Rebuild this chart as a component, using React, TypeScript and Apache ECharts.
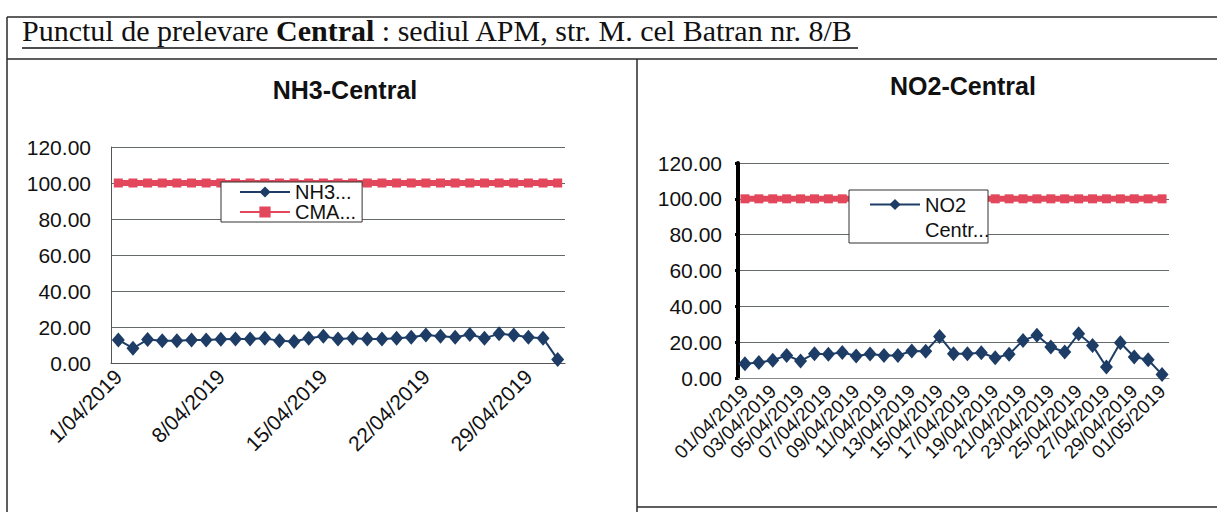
import React, { useEffect, useRef } from "react";
import * as echarts from "echarts";

const nh3Dates = [
  "1/04/2019", "2/04/2019", "3/04/2019", "4/04/2019", "5/04/2019", "6/04/2019", "7/04/2019",
  "8/04/2019", "9/04/2019", "10/04/2019", "11/04/2019", "12/04/2019", "13/04/2019", "14/04/2019",
  "15/04/2019", "16/04/2019", "17/04/2019", "18/04/2019", "19/04/2019", "20/04/2019", "21/04/2019",
  "22/04/2019", "23/04/2019", "24/04/2019", "25/04/2019", "26/04/2019", "27/04/2019", "28/04/2019",
  "29/04/2019", "30/04/2019", "1/05/2019",
];
const no2Dates = [
  "01/04/2019", "02/04/2019", "03/04/2019", "04/04/2019", "05/04/2019", "06/04/2019", "07/04/2019",
  "08/04/2019", "09/04/2019", "10/04/2019", "11/04/2019", "12/04/2019", "13/04/2019", "14/04/2019",
  "15/04/2019", "16/04/2019", "17/04/2019", "18/04/2019", "19/04/2019", "20/04/2019", "21/04/2019",
  "22/04/2019", "23/04/2019", "24/04/2019", "25/04/2019", "26/04/2019", "27/04/2019", "28/04/2019",
  "29/04/2019", "30/04/2019", "01/05/2019",
];
const nh3Values = [
  12.8, 8.2, 13.0, 12.3, 12.3, 12.8, 12.8, 13.2, 13.4, 13.4, 13.8, 12.3, 12.0, 13.8, 14.8, 13.4,
  13.8, 13.4, 13.4, 13.8, 14.3, 15.5, 14.8, 14.3, 15.8, 13.8, 16.2, 15.5, 14.3, 13.8, 2.0,
];
const no2Values = [
  8.0, 8.6, 9.9, 12.6, 9.5, 13.6, 13.2, 14.3, 12.3, 13.4, 12.6, 12.6, 15.1, 14.9, 23.2, 13.6,
  13.6, 14.1, 11.3, 13.2, 21.0, 23.8, 17.3, 14.5, 24.7, 18.2, 6.1, 19.7, 11.7, 10.2, 1.9,
];
const cmaValues = [
  100, 100, 100, 100, 100, 100, 100, 100, 100, 100, 100, 100, 100, 100, 100, 100,
  100, 100, 100, 100, 100, 100, 100, 100, 100, 100, 100, 100, 100, 100, 100,
];
const seriesNames = { nh3: "NH3-Central", cmaNh3: "CMA-NH3", no2: "NO2-Central", cmaNo2: "CMA-NO2" };
const pageTitle = "Punctul de prelevare {b|Central} : sediul APM, str. M. cel Batran nr. 8/B";

const NAVY = "#1d3d66";
const RED = "#e2475b";
const GRID = "#646a6a";
const FRAME = "#2a2a2a";
const SANS = "Liberation Sans, Arial, sans-serif";
const SERIF = "Liberation Serif, Times New Roman, serif";

export default function App() {
  const ref = useRef<HTMLDivElement>(null);
  useEffect(() => {
    if (!ref.current) return;
    const chart = echarts.init(ref.current, null, { renderer: "svg" });
    const yFmt = (v: number) => v.toFixed(2);
    const xLabel = (interval: number, fontSize: number) => ({
      interval,
      rotate: 45,
      margin: 10,
      fontSize,
      color: "#111",
      fontFamily: SANS,
    });
    const option: any = {
      animation: false,
      backgroundColor: "#fff",
      textStyle: { fontFamily: SANS },
      title: [
        {
          text: "NH3-Central",
          left: 340,
          top: 72,
          textAlign: "center",
          textStyle: { fontSize: 25, fontWeight: "bold", color: "#111", fontFamily: SANS },
        },
        {
          text: "NO2-Central",
          left: 958,
          top: 68,
          textAlign: "center",
          textStyle: { fontSize: 25, fontWeight: "bold", color: "#111", fontFamily: SANS },
        },
      ],
      grid: [
        { left: 111, top: 147, width: 454, height: 216, outerBoundsMode: "none" },
        { left: 738, top: 163, width: 431, height: 215, outerBoundsMode: "none" },
      ],
      xAxis: [
        {
          type: "category",
          gridIndex: 0,
          data: nh3Dates,
          boundaryGap: true,
          axisLine: { lineStyle: { color: "#555", width: 1 } },
          axisTick: { interval: 6, length: 6, lineStyle: { color: "#555" } },
          axisLabel: xLabel(6, 21),
          splitLine: { show: false },
        },
        {
          type: "category",
          gridIndex: 1,
          data: no2Dates,
          boundaryGap: true,
          axisLine: { lineStyle: { color: "#888", width: 1 } },
          axisTick: { interval: 1, length: 5, lineStyle: { color: "#444" } },
          axisLabel: xLabel(1, 19),
          splitLine: { show: false },
        },
      ],
      yAxis: [
        {
          type: "value",
          gridIndex: 0,
          min: 0,
          max: 120,
          interval: 20,
          axisLine: { show: true, lineStyle: { color: "#555", width: 1 } },
          axisTick: { show: false },
          axisLabel: { formatter: yFmt, fontSize: 21, margin: 20, color: "#111", fontFamily: SANS },
          splitLine: { show: true, lineStyle: { color: GRID, width: 1 } },
        },
        {
          type: "value",
          gridIndex: 1,
          min: 0,
          max: 120,
          interval: 20,
          axisLine: { show: true, lineStyle: { color: "#000", width: 4 } },
          axisTick: { show: true, length: 3, lineStyle: { color: "#000", width: 3 } },
          axisLabel: { formatter: yFmt, fontSize: 21, margin: 16, color: "#111", fontFamily: SANS },
          splitLine: { show: true, lineStyle: { color: GRID, width: 1 } },
        },
      ],
      legend: [
        {
          data: [seriesNames.nh3, seriesNames.cmaNh3],
          orient: "vertical",
          left: 221,
          top: 182,
          padding: [0, 6, 0, 18],
          itemGap: 0,
          itemWidth: 50,
          itemHeight: 14,
          textStyle: { fontSize: 20, color: "#111", fontFamily: SANS },
          formatter: (n: string) => n.slice(0, 3) + "...",
          backgroundColor: "#fff",
          borderColor: "#333",
          borderWidth: 1,
          selectedMode: false,
          z: 11,
        },
        {
          data: [seriesNames.no2],
          orient: "vertical",
          left: 869,
          top: 167,
          padding: 0,
          itemWidth: 50,
          itemHeight: 14,
          textStyle: {
            fontSize: 20,
            lineHeight: 25,
            color: "#111",
            fontFamily: SANS,
          },
          formatter: (n: string) => {
            const parts = n.split("-");
            return " \n" + parts[0] + "\n" + parts[1].slice(0, 5) + "...";
          },
          selectedMode: false,
          z: 11,
        },
      ],
      series: [
        {
          name: seriesNames.cmaNh3,
          type: "line",
          xAxisIndex: 0,
          yAxisIndex: 0,
          data: cmaValues,
          symbol: "rect",
          symbolSize: 9,
          showAllSymbol: true,
          lineStyle: { color: RED, width: 6 },
          itemStyle: { color: RED },
          z: 2,
        },
        {
          name: seriesNames.nh3,
          type: "line",
          xAxisIndex: 0,
          yAxisIndex: 0,
          data: nh3Values,
          symbol: "diamond",
          symbolSize: [13, 15],
          showAllSymbol: true,
          lineStyle: { color: NAVY, width: 2 },
          itemStyle: { color: NAVY },
          z: 3,
        },
        {
          name: seriesNames.cmaNo2,
          type: "line",
          xAxisIndex: 1,
          yAxisIndex: 1,
          data: cmaValues,
          symbol: "rect",
          symbolSize: 9,
          showAllSymbol: true,
          lineStyle: { color: RED, width: 6 },
          itemStyle: { color: RED },
          z: 2,
        },
        {
          name: seriesNames.no2,
          type: "line",
          xAxisIndex: 1,
          yAxisIndex: 1,
          data: no2Values,
          symbol: "diamond",
          symbolSize: [13, 15],
          showAllSymbol: true,
          lineStyle: { color: NAVY, width: 2 },
          itemStyle: { color: NAVY },
          z: 3,
        },
      ],
      graphic: [
        { type: "line", shape: { x1: 7, y1: 17, x2: 1217, y2: 17 }, style: { stroke: FRAME, lineWidth: 1.5 }, z: 20 },
        { type: "line", shape: { x1: 7, y1: 59, x2: 1217, y2: 59 }, style: { stroke: FRAME, lineWidth: 1.5 }, z: 20 },
        { type: "line", shape: { x1: 7, y1: 17, x2: 7, y2: 512 }, style: { stroke: FRAME, lineWidth: 1.5 }, z: 20 },
        { type: "line", shape: { x1: 637, y1: 59, x2: 637, y2: 512 }, style: { stroke: FRAME, lineWidth: 1.5 }, z: 20 },
        { type: "line", shape: { x1: 637, y1: 507, x2: 1217, y2: 507 }, style: { stroke: FRAME, lineWidth: 1.5 }, z: 20 },
        {
          type: "text",
          x: 22,
          y: 45,
          z: 20,
          style: {
            text: pageTitle,
            fontFamily: SERIF,
            fontSize: 30,
            fill: "#111",
            textVerticalAlign: "bottom",
            verticalAlign: "bottom",
            rich: { b: { fontFamily: SERIF, fontSize: 30, fontWeight: "bold", fill: "#111" } },
          },
        },
        { type: "line", shape: { x1: 22, y1: 48, x2: 858, y2: 48 }, style: { stroke: "#111", lineWidth: 1.5 }, z: 20 },
        {
          type: "rect",
          shape: { x: 849, y: 190, width: 139, height: 53 },
          style: { fill: "#fff", stroke: "#333", lineWidth: 1 },
          z: 10,
        },
      ],
    };
    chart.setOption(option);
    return () => chart.dispose();
  }, []);
  return (
    <div
      ref={ref}
      style={{ position: "absolute", left: 0, top: 0, width: 1217, height: 512 }}
    />
  );
}
